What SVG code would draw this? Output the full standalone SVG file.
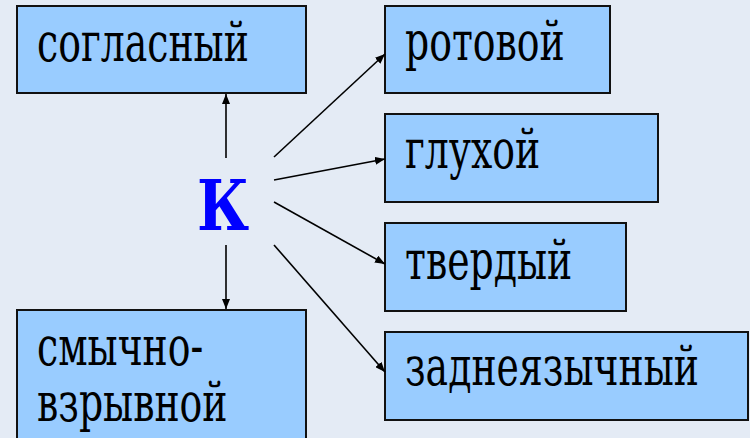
<svg xmlns="http://www.w3.org/2000/svg" width="750" height="438" viewBox="0 0 750 438">
<style>
.box{fill:#99CCFF;stroke:#111;stroke-width:2}
.c{stroke:#000;stroke-width:1.6;fill:none;marker-end:url(#ah)}
</style>
<defs>
<marker id="ah" viewBox="0 0 10 8" refX="10" refY="4" markerWidth="10" markerHeight="8" markerUnits="userSpaceOnUse" orient="auto">
<path d="M0,0 L10,4 L0,8 Z" fill="#000"/>
</marker>
</defs>
<rect width="750" height="438" fill="#E4EBF5"/>
<g font-family="DejaVu Serif, Liberation Serif, serif" font-size="54" fill="#000">
<g id="n-soglasny"><rect class="box" x="17" y="6" width="289" height="87"/><text transform="translate(37,61) scale(0.7,1)">согласный</text></g>
<g id="n-rotovoy"><rect class="box" x="385" y="6" width="225" height="87"/><text transform="translate(405,60) scale(0.7,1)">ротовой</text></g>
<g id="n-gluhoy"><rect class="box" x="385" y="114" width="273" height="88"/><text transform="translate(405,168) scale(0.7,1)">глухой</text></g>
<g id="n-tverdy"><rect class="box" x="385" y="223" width="241" height="88"/><text transform="translate(405,279) scale(0.7,1)">твердый</text></g>
<g id="n-zadne"><rect class="box" x="385" y="332" width="363" height="88"/><text transform="translate(405,385) scale(0.7,1)">заднеязычный</text></g>
<g id="n-smychno"><rect class="box" x="17" y="310" width="289" height="140"/><text transform="translate(37,365) scale(0.7,1)">смычно-</text><text transform="translate(37,421) scale(0.7,1)">взрывной</text></g>
<g id="n-k"><text font-size="70" font-weight="bold" fill="#0000FF" text-anchor="middle" transform="translate(223,230) scale(0.82,1)">К</text></g>
</g>
<g id="connectors">
<line class="c" x1="226" y1="158" x2="226" y2="94"/>
<line class="c" x1="226" y1="245" x2="226" y2="309"/>
<line class="c" x1="274" y1="157" x2="385" y2="54"/>
<line class="c" x1="274" y1="180" x2="385" y2="159"/>
<line class="c" x1="274" y1="202" x2="385" y2="264"/>
<line class="c" x1="274" y1="245" x2="385" y2="372"/>
</g>
</svg>
